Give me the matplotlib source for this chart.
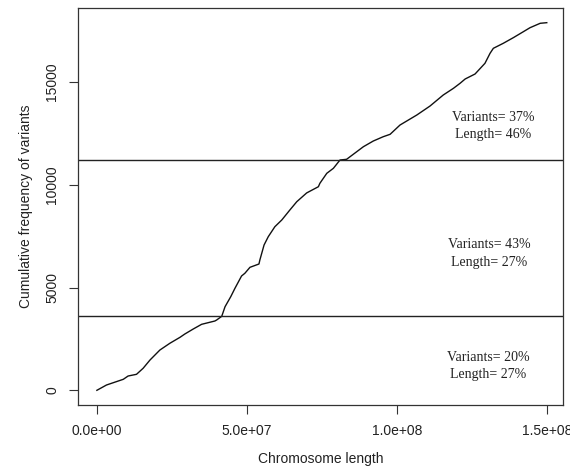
import numpy as np
import matplotlib.pyplot as plt

# Позиции по хромосоме (п.н.) и накопленное число вариантов
pos = [0, 3.2e6, 8.8e6, 1.04e7, 1.32e7, 1.54e7, 1.77e7, 2.1e7, 2.43e7, 2.77e7,
       2.93e7, 3.21e7, 3.49e7, 3.93e7, 3.99e7, 4.16e7, 4.27e7, 4.46e7, 4.6e7,
       4.82e7, 4.93e7, 5.1e7, 5.4e7, 5.43e7, 5.57e7, 5.71e7, 5.93e7, 6.16e7,
       6.43e7, 6.66e7, 6.99e7, 7.38e7, 7.43e7, 7.66e7, 7.88e7, 8.1e7, 8.32e7,
       8.88e7, 9.21e7, 9.54e7, 9.77e7, 1.01e8, 1.066e8, 1.11e8, 1.154e8,
       1.188e8, 1.21e8, 1.227e8, 1.26e8, 1.293e8, 1.31e8, 1.321e8, 1.354e8,
       1.388e8, 1.421e8, 1.443e8, 1.477e8, 1.499e8]
cum = [0, 258, 535, 695, 778, 1070, 1474, 1960, 2286, 2578,
       2738, 2981, 3210, 3370, 3419, 3599, 4066, 4553, 4961,
       5560, 5691, 5982, 6143, 6337, 7067, 7471, 7957, 8283,
       8770, 9173, 9600, 9902, 10068, 10554, 10797, 11201, 11235,
       11848, 12125, 12334, 12451, 12903, 13390, 13827, 14362,
       14688, 14931, 15141, 15384, 15904, 16391, 16634, 16877,
       17155, 17442, 17635, 17850, 17880]

# Границы участков
cuts = [3600, 11200]

# Подписи участков
lab_x = [1.303e8, 1.307e8, 1.32e8]
lab_y = [1182, 6654, 12855]
lab_txt = ["Variants= 20%\nLength= 27%",
           "Variants= 43%\nLength= 27%",
           "Variants= 37%\nLength= 46%"]

xticks = [0, 5e7, 1e8, 1.5e8]
xticklabels = ["0.0e+00", "5.0e+07", "1.0e+08", "1.5e+08"]
yticks = [0, 5000, 10000, 15000]

plt.rcParams['font.family'] = ['Liberation Sans', 'DejaVu Sans']

fig = plt.figure(figsize=(5.7, 4.68), dpi=100)
ax = fig.add_axes([0.1368, 0.1346, 0.9877 - 0.1368, 0.9829 - 0.1346])

ax.plot(pos, cum, color='#111111', linewidth=1.0)
for c in cuts:
    ax.axhline(c, color='#222222', linewidth=1.0)

for x, y, t in zip(lab_x, lab_y, lab_txt):
    ax.text(x, y, t, ha='center', va='center', fontsize=10,
            family='Liberation Serif', color='#222222', linespacing=1.45)

ax.set_xlim(-6.3e6, 1.553e8)
ax.set_ylim(-715, 18594)
ax.set_xticks(xticks)
ax.set_xticklabels(xticklabels)
ax.set_yticks(yticks)
ax.set_yticklabels([str(v) for v in yticks], rotation=90, va='center')
ax.tick_params(length=6.5, width=0.8, colors='#333333', labelsize=10, pad=7)
ax.tick_params(axis='x', labelcolor='#222222')
ax.tick_params(axis='y', labelcolor='#222222')

for s in ax.spines.values():
    s.set_color('#333333')
    s.set_linewidth(0.9)

ax.set_xlabel('Chromosome length', fontsize=10, color='#222222', labelpad=10)
ax.set_ylabel('Cumulative frequency of variants', fontsize=10, color='#222222', labelpad=9)

fig.savefig('out.png', dpi=100)
